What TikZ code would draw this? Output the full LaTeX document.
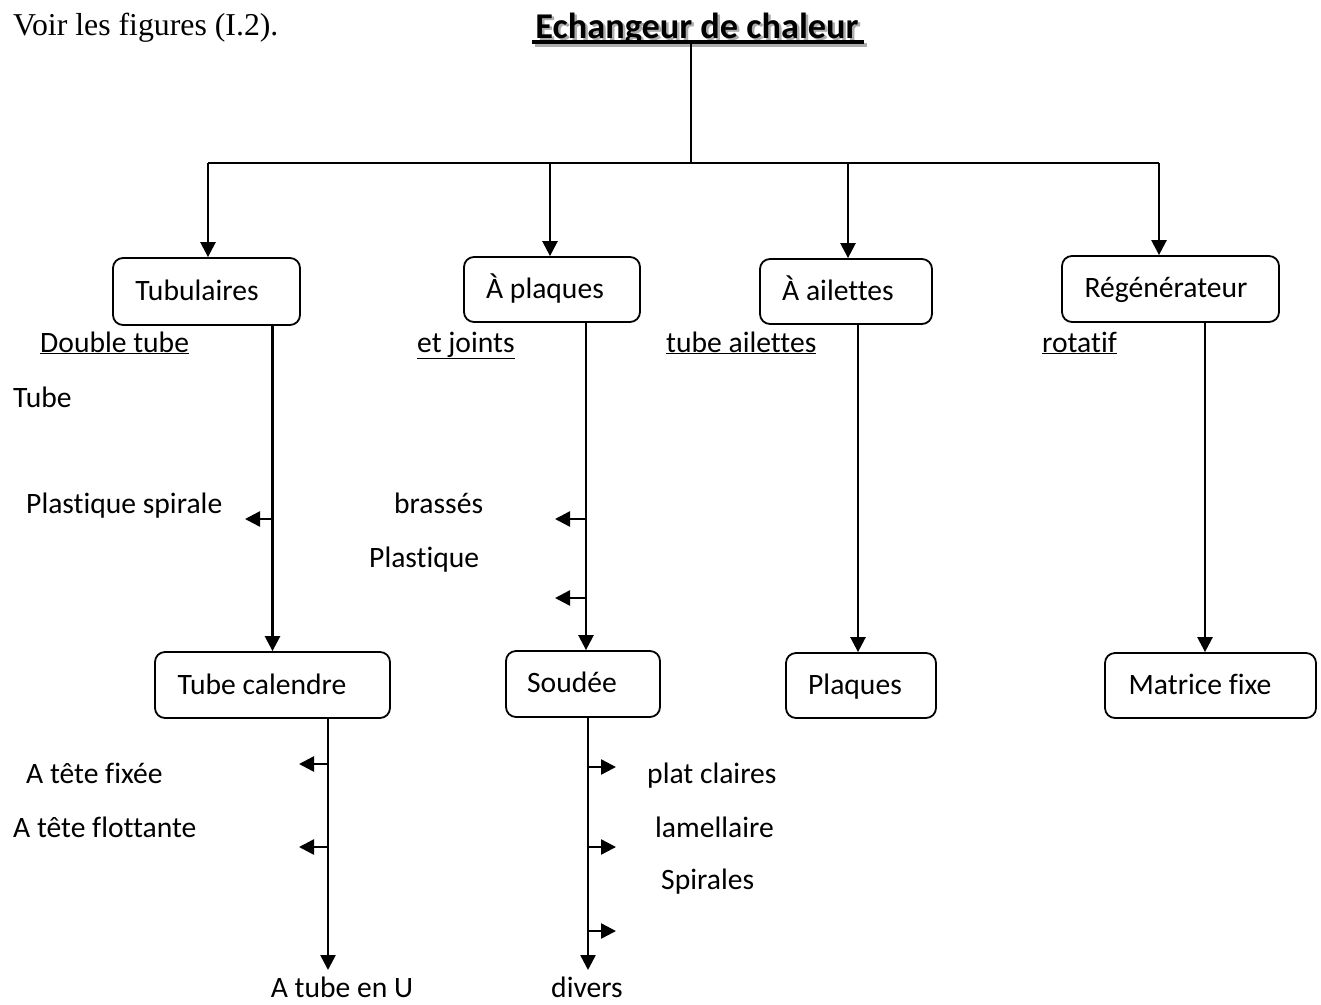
\documentclass[tikz,border=0pt]{standalone}
\usepackage{fontspec}
\setmainfont[Ligatures=NoCommon]{Carlito}
\newfontfamily\timesf{Liberation Serif}
\usetikzlibrary{arrows.meta}
\begin{document}
\begin{tikzpicture}[x=1pt,y=-1pt,
  box/.style={draw, line width=1.8pt, rounded corners=10pt, inner sep=0pt},
  lbl/.style={anchor=base west, inner sep=0pt, font=\fontsize{29.6}{34}\selectfont},
  blbl/.style={anchor=base, inner sep=0pt, font=\fontsize{29.6}{34}\selectfont},
  ln/.style={line width=2.5pt},
  arr/.style={line width=2.5pt, -{Triangle[length=15pt,width=15pt]}},
  sarr/.style={line width=2.5pt, -{Triangle[length=15pt,width=15pt]}}]
\path[use as bounding box] (0,0) rectangle (1321,1004);
% title
\node[anchor=base west, inner sep=0pt, font=\timesf\fontsize{31.8}{36}\selectfont] (voir) at (13,35) {Voir les figures (I.2).};
\node[anchor=base, inner sep=0pt, text=gray!65, font=\bfseries\fontsize{36.3}{40}\selectfont] (titsh) at (699.5,40) {Echangeur de chaleur};
\node[anchor=base, inner sep=0pt, font=\bfseries\fontsize{36.3}{40}\selectfont] (title) at (697,38) {Echangeur de chaleur};
\draw[gray!65, line width=3.6pt] (535,45) -- (867,45);
\draw[line width=3.6pt] (532,42) -- (864,42);
% top tree
\coordinate (top) at (691,44);
\coordinate (hub) at (691,163);
\coordinate (hl) at (208,163);
\coordinate (hr) at (1159,163);
\coordinate (d2) at (550,163);
\coordinate (d3) at (848,163);
% level 1 boxes
\node[box, minimum width=187pt, minimum height=67pt] (tub) at (206.5,291.5) {};
\node[box, minimum width=176pt, minimum height=65pt] (pla) at (552,289.5) {};
\node[box, minimum width=172pt, minimum height=65pt] (ail) at (846,291.5) {};
\node[box, minimum width=217pt, minimum height=66pt] (reg) at (1170.5,289) {};
\node[blbl] (tubt) at (197,300) {Tubulaires};
\node[blbl] (plat) at (545,298) {À plaques};
\node[blbl] (ailt) at (838,300) {À ailettes};
\node[blbl] (regt) at (1166,297) {Régénérateur};
% level 2 boxes
\node[box, minimum width=235pt, minimum height=66pt] (tc) at (272.5,685) {};
\node[box, minimum width=154pt, minimum height=66pt] (sou) at (583,684) {};
\node[box, minimum width=150pt, minimum height=65pt] (plq) at (861,685.5) {};
\node[box, minimum width=211pt, minimum height=65pt] (mat) at (1210.5,685.5) {};
\node[blbl] (tct) at (262,694) {Tube calendre};
\node[blbl] (sout) at (572,692) {Soudée};
\node[blbl] (plqt) at (855,694) {Plaques};
\node[blbl] (matt) at (1200,694) {Matrice fixe};
% connectors top
\draw[ln] (top) -- (hub);
\draw[ln] (hl) -- (hr);
\draw[arr] (hl) -- (hl |- tub.north);
\draw[arr] (d2) -- (d2 |- pla.north);
\draw[arr] (d3) -- (d3 |- ail.north);
\draw[arr] (hr) -- (hr |- reg.north);
% verticals level1 -> level2
\draw[arr] (tc.north |- tub.south) -- (tc.north);
\coordinate (vp) at (586,0);
\draw[arr] (vp |- pla.south) -- (vp |- sou.north);
\coordinate (va) at (858,0);
\draw[arr] (va |- ail.south) -- (va |- plq.north);
\coordinate (vr) at (1205,0);
\draw[arr] (vr |- reg.south) -- (vr |- mat.north);
% underlined labels
\node[lbl] (dt) at (40,352) {\underline{Double tube}};
\node[lbl] (ej) at (417,352) {\underline{et joints}};
\node[lbl] (ta) at (666,352) {\underline{tube ailettes}};
\node[lbl] (rot) at (1042,352) {\underline{rotatif}};
\node[lbl] (tube) at (13,407) {Tube};
% side arrows level 1
\node[lbl] (ps) at (26,513) {Plastique spirale};
\node[lbl] (br) at (394,513) {brassés};
\node[lbl] (pl) at (369,567) {Plastique};
\coordinate (s1a) at (272,519); \coordinate (s1b) at (245,519);
\coordinate (s2a) at (586,519); \coordinate (s2b) at (555,519);
\coordinate (s3a) at (586,598); \coordinate (s3b) at (555,598);
\draw[sarr] (s1a) -- (s1b);
\draw[sarr] (s2a) -- (s2b);
\draw[sarr] (s3a) -- (s3b);
% bottom verticals
\node[blbl] (atu) at (342,997) {A tube en U};
\node[blbl] (div) at (587,997) {divers};
\coordinate (b1) at (328,970);
\coordinate (b2) at (588,970);
\draw[arr] (b1 |- tc.south) -- (b1);
\draw[arr] (b2 |- sou.south) -- (b2);
% side arrows level 2
\node[lbl] (atf) at (26,783) {A tête fixée};
\node[lbl] (atfl) at (13,837) {A tête flottante};
\node[lbl] (pc) at (647,783) {plat claires};
\node[lbl] (lam) at (655,837) {lamellaire};
\node[lbl] (spi) at (661,889) {Spirales};
\coordinate (t1a) at (328,764); \coordinate (t1b) at (299,764);
\coordinate (t2a) at (328,847); \coordinate (t2b) at (299,847);
\coordinate (u1a) at (588,767); \coordinate (u1b) at (616,767);
\coordinate (u2a) at (588,847); \coordinate (u2b) at (616,847);
\coordinate (u3a) at (588,931); \coordinate (u3b) at (616,931);
\draw[sarr] (t1a) -- (t1b);
\draw[sarr] (t2a) -- (t2b);
\draw[sarr] (u1a) -- (u1b);
\draw[sarr] (u2a) -- (u2b);
\draw[sarr] (u3a) -- (u3b);
\end{tikzpicture}
\end{document}
